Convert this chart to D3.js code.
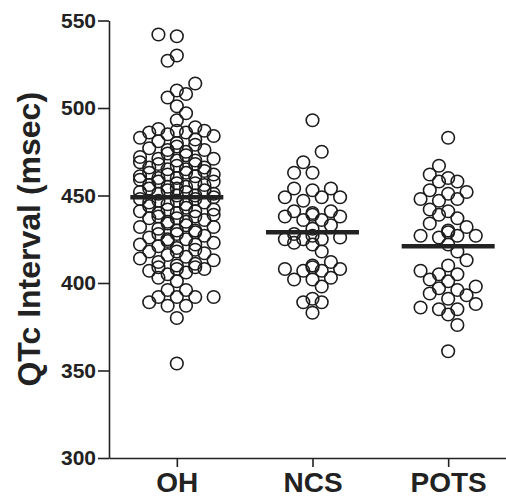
<!DOCTYPE html>
<html lang="en">

<head>
    <meta charset="UTF-8">
    <title>QTc Interval</title>
    <script src="https://d3js.org/d3.v7.min.js"></script>
    <style>
        body { margin: 0; background: #fff; }
        text { font-family: "Liberation Sans", Arial, sans-serif; font-weight: bold; fill: #222; }
    </style>
</head>

<body>
    <div id="chart"></div>

    <script>
        // Groups and their mean values
        const groups = ["OH", "NCS", "POTS"];
        const means = [449, 429, 421];
        const yTicks = [300, 350, 400, 450, 500, 550];
        const yLabel = "QTc Interval (msec)";

        // QTc values per group (msec)
        const ohValues = [
            542, 541, 530, 527, 514, 510, 508, 506, 501, 497, 493,
            489, 487, 486, 488, 485, 487, 486,
            483, 481, 480, 482, 484,
            478, 476, 477, 475, 479, 476,
            473, 471, 470, 474, 472, 470, 471,
            468, 466, 465, 469, 467, 465, 468, 466,
            463, 461, 460, 464, 462, 460, 463, 461, 462,
            458, 456, 455, 459, 457, 455, 458, 456, 457,
            453, 451, 450, 454, 452, 450, 453, 451, 452, 454,
            448, 446, 445, 449, 447, 446, 448, 445, 447,
            443, 441, 440, 444, 442, 440, 441, 442,
            438, 436, 435, 439, 437, 435, 438, 437,
            433, 431, 430, 434, 432, 430, 432,
            428, 426, 425, 429, 427, 425, 428,
            423, 421, 420, 424, 422, 422,
            418, 416, 415, 419, 417, 418,
            413, 411, 410, 414, 412,
            409, 408, 407, 405, 409, 408, 406,
            403, 401,
            396, 396, 392, 392, 392, 392,
            389, 387, 387,
            380, 354
        ];
        const ncsValues = [
            493, 475, 469, 463, 463, 453, 454, 454, 449, 449, 447, 449,
            441, 440, 439, 441, 438, 436, 436, 438, 433, 431, 428, 427,
            425, 426, 425, 425, 423, 422, 418, 412, 408, 407, 409, 408,
            410, 403, 402, 402, 407, 398, 389, 389, 391, 383
        ];
        const potsValues = [
            483, 467, 462, 458, 458, 460, 453, 451, 448, 447, 448, 452,
            442, 441, 439, 437, 434, 432, 430, 429, 427, 427, 426, 427,
            422, 418, 413, 410, 405, 405, 407, 402, 401, 398, 396, 397,
            393, 391, 394, 388, 385, 385, 386, 382, 376, 361
        ];
        const allValues = [ohValues, ncsValues, potsValues];

        const W = 506, H = 497;
        const svg = d3.select("#chart").append("svg")
            .attr("width", W)
            .attr("height", H);

        const y = d3.scaleLinear().domain([300, 550]).range([458, 20.5]);
        const x = d3.scalePoint().domain(groups).range([109, 516]).padding(0.5);

        // y axis
        const yAxis = svg.append("g")
            .attr("transform", "translate(109,0)")
            .call(d3.axisLeft(y).tickValues(yTicks).tickSize(11).tickSizeOuter(0).tickPadding(2));
        yAxis.selectAll("text").style("font-size", "21px");

        // x axis
        const xAxis = svg.append("g")
            .attr("transform", "translate(0,458)")
            .call(d3.axisBottom(x).tickSize(9).tickSizeOuter(0).tickPadding(5));
        xAxis.selectAll("text").style("font-size", "28px");

        svg.selectAll(".domain, .tick line")
            .attr("stroke", "#222")
            .attr("stroke-width", 1.6);

        // axis title
        svg.append("text")
            .attr("transform", "translate(40," + (y(300) + y(550)) / 2 + ") rotate(-90)")
            .attr("text-anchor", "middle")
            .style("font-size", "32px")
            .text(yLabel);

        // Prism-style scatter: bin values into rows, spread each row over slots
        const slotStep = 9.2;
        const binWidth = 5;

        function layout(values) {
            const bins = d3.group(values, v => Math.floor(v / binWidth));
            const out = [];
            bins.forEach((vals, b) => {
                vals = vals.slice().sort(d3.ascending);
                const sign = (Math.floor(b / 2) % 2 === 0) ? 1 : -1;
                let order;
                if (b % 2 === 0) order = [0, -2, 2, -4, 4, -1, 1, -3, 3];
                else order = [-1, 1, -3, 3, 0, -2, 2, -4, 4];
                vals.forEach((v, i) => {
                    out.push({ value: v, slot: sign * order[i % order.length] });
                });
            });
            return out;
        }

        groups.forEach((g, gi) => {
            const pts = layout(allValues[gi]);
            svg.append("g")
                .selectAll("circle")
                .data(pts)
                .join("circle")
                .attr("cx", d => x(g) + d.slot * slotStep)
                .attr("cy", d => y(d.value))
                .attr("r", 6.3)
                .attr("fill", "none")
                .attr("stroke", "#1c1c1c")
                .attr("stroke-width", 1.6);
        });

        // mean lines
        svg.append("g")
            .selectAll("line")
            .data(groups)
            .join("line")
            .attr("x1", d => x(d) - 46.5)
            .attr("x2", d => x(d) + 46.5)
            .attr("y1", (d, i) => y(means[i]))
            .attr("y2", (d, i) => y(means[i]))
            .attr("stroke", "#222")
            .attr("stroke-width", 4.5);
    </script>
</body>

</html>
